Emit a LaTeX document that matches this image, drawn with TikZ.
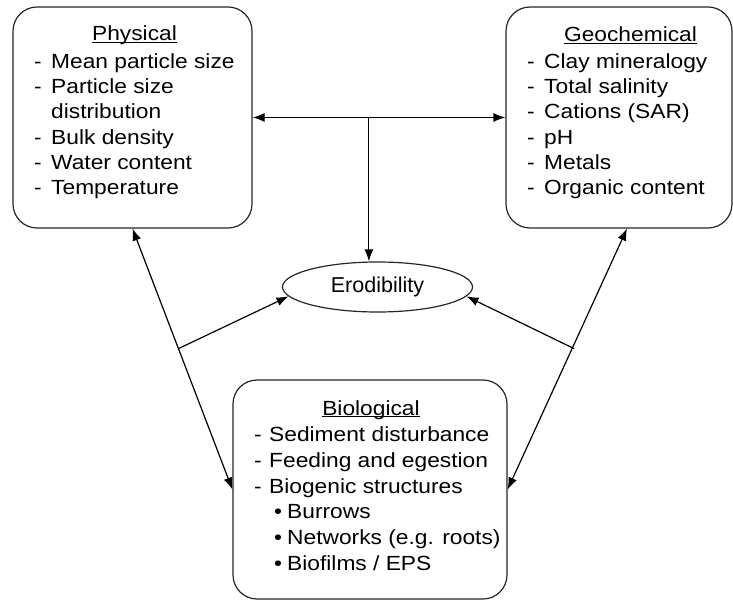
\documentclass[tikz,border=0pt]{standalone}
\usepackage{fontspec}
\setmainfont{Liberation Sans}
\newfontfamily\boxfont{Liberation Sans}[FakeStretch=1.11]
\usetikzlibrary{arrows.meta,shapes.geometric,calc}
\newcommand\ulword[1]{\setbox0\hbox{#1}\rlap{\rule[-2.4pt]{\wd0}{1.1pt}}\box0}
\newcommand\dashA[1]{\makebox[17pt][l]{-}#1}
\newcommand\dashB[1]{\makebox[15pt][l]{-}#1}
\newcommand\bulletB[1]{\hspace*{20pt}\makebox[13pt][l]{\textbullet}#1}
\begin{document}
\begin{tikzpicture}[x=1pt,y=-1pt,
  panel/.style={draw=black!85, line width=1.2pt, rounded corners=24pt, inner sep=0pt, fill=white},
  titletext/.style={anchor=base, inner sep=0pt, font=\boxfont\fontsize{20.5}{25.3}\selectfont},
  listtext/.style={anchor=base west, inner sep=0pt, font=\boxfont\fontsize{20.5}{25.3}\selectfont},
  biolist/.style={anchor=base west, inner sep=0pt, font=\boxfont\fontsize{20.5}{25.7}\selectfont},
  link/.style={line width=1.2pt, {Latex[length=12pt,width=9pt]}-{Latex[length=12pt,width=9pt]}},
  onearrow/.style={line width=1.2pt, -{Latex[length=12pt,width=9pt]}}
]
\useasboundingbox (0,0) rectangle (733,601);

% boxes
\node[panel, minimum width=239pt, minimum height=221pt] (phys) at (132.5,117.5) {};
\node[panel, minimum width=226pt, minimum height=221pt] (geo) at (619,117.5) {};
\node[panel, minimum width=274pt, minimum height=219pt] (bio) at (370,489.5) {};
\node[draw=black!85, line width=1.2pt, ellipse, minimum width=190pt, minimum height=50pt, inner sep=0pt,
      font=\fontsize{21.5}{24}\selectfont] (ero) at (377.5,287) {Erodibility};

% texts
\node[titletext] (physT) at (134.5,41) {\ulword{Physical}};
\node[listtext] (physL) at (34,68.3) {\begin{tabular}[t]{@{}l@{}}
\dashA{Mean particle size}\\
\dashA{Particle size}\\
\hspace*{17pt}distribution\\
\dashA{Bulk density}\\
\dashA{Water content}\\
\dashA{Temperature}
\end{tabular}};

\node[titletext] (geoT) at (630.5,41.7) {\ulword{Geochemical}};
\node[listtext] (geoL) at (527,68.3) {\begin{tabular}[t]{@{}l@{}}
\dashA{Clay mineralogy}\\
\dashA{Total salinity}\\
\dashA{Cations (SAR)}\\
\dashA{pH}\\
\dashA{Metals}\\
\dashA{Organic content}
\end{tabular}};

\node[titletext] (bioT) at (371,415) {\ulword{Biological}};
\node[biolist] (bioL) at (254,441.7) {\begin{tabular}[t]{@{}l@{}}
\dashB{Sediment disturbance}\\
\dashB{Feeding and egestion}\\
\dashB{Biogenic structures}\\
\bulletB{Burrows}\\
\bulletB{Networks (e.g. roots)}\\
\bulletB{Biofilms / EPS}
\end{tabular}};

% connectors
\draw[link] (phys.east) -- (geo.west);
\coordinate (hmid) at ($(phys.east)!0.46!(geo.west)$);
\draw[onearrow] (hmid) -- (hmid |- ero.north);

\coordinate (gtip) at ($(geo.south)+(8,0)$);
\draw[link] (phys.south) -- (bio.west);
\draw[link] (gtip) -- (bio.east);

\coordinate (lb) at ($(phys.south)!0.46!(bio.west)$);
\coordinate (rb) at ($(gtip)!0.46!(bio.east)+(2,0)$);
\draw[onearrow] (lb) -- (ero.186);
\draw[onearrow] (rb) -- (ero.354);
\end{tikzpicture}
\end{document}
